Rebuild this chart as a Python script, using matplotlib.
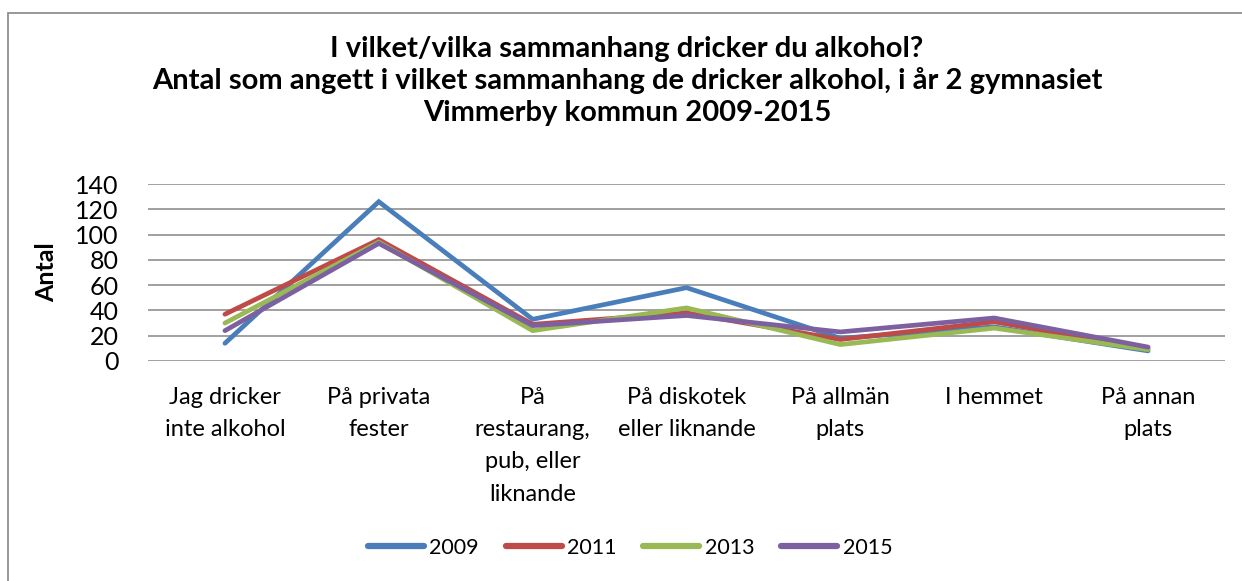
import matplotlib
matplotlib.use("Agg")
import matplotlib.pyplot as plt
from matplotlib.patches import Rectangle

plt.rcParams['font.family'] = ['Lato', 'DejaVu Sans']

# Data
categories = [
    "Jag dricker\ninte alkohol",
    "På privata\nfester",
    "På\nrestaurang,\npub, eller\nliknande",
    "På diskotek\neller liknande",
    "På allmän\nplats",
    "I hemmet",
    "På annan\nplats",
]
years = ["2009", "2011", "2013", "2015"]
v2009 = [14, 126, 33, 58, 18, 27, 8]
v2011 = [37, 96, 29, 38, 17, 31, 10]
v2013 = [30, 94, 24, 42, 13, 26, 9]
v2015 = [24, 93, 28, 36, 23, 34, 11]
yticks = [0, 20, 40, 60, 80, 100, 120, 140]

colors = ['#4A7EBB', '#BE4B48', '#98B954', '#7D60A0']
W, H = 1242, 581

fig = plt.figure(figsize=(W / 100, H / 100), dpi=100)

# outer chart border (runs off the right and bottom edges)
fig.patches.append(Rectangle((8 / W, -0.2), 1.2, 1.2 - 13 / H,
                             transform=fig.transFigure, fill=False,
                             edgecolor='#868686', linewidth=1.2))

ax = fig.add_axes([148 / W, 1 - 361 / H, (1225 - 148) / W, (361 - 184) / H])

x = range(len(categories))
for vals, year, col in zip([v2009, v2011, v2013, v2015], years, colors):
    ax.plot(x, vals, color=col, linewidth=3.4, label=year,
            solid_capstyle='round', solid_joinstyle='miter')

ax.set_xlim(-0.5, len(categories) - 0.5)
ax.set_ylim(0, 140)
ax.set_yticks(yticks)
ax.set_yticklabels([str(t) for t in yticks], fontsize=18)
ax.set_xticks(list(x))
ax.set_xticklabels(categories, fontsize=17, linespacing=1.65, va='top')
ax.tick_params(length=0)
ax.tick_params(axis='x', pad=19)
ax.tick_params(axis='y', pad=21)
ax.grid(axis='y', color='#868686', linewidth=1.1)
ax.set_axisbelow(True)
for s in ax.spines.values():
    s.set_visible(False)

ax.set_ylabel("Antal", fontsize=18, fontweight='bold')
ax.yaxis.set_label_coords((58 - 148) / (1225 - 148), 0.5)

title_lines = [
    "I vilket/vilka sammanhang dricker du alkohol?",
    "Antal som angett i vilket sammanhang de dricker alkohol, i år 2 gymnasiet",
    "Vimmerby kommun 2009-2015",
]
for line, ypx in zip(title_lines, [49, 81, 113]):
    fig.text(627 / W, 1 - ypx / H, line, ha='center', va='center',
             fontsize=21, fontweight='bold')

leg = fig.legend(loc='center', bbox_to_anchor=(630 / W, 1 - 548 / H), ncol=4,
                 frameon=False, fontsize=15.5, handlelength=2.6,
                 handletextpad=0.25, columnspacing=1.25)
for h in leg.get_lines():
    h.set_linewidth(4.5)

fig.savefig("out.png", dpi=100)
